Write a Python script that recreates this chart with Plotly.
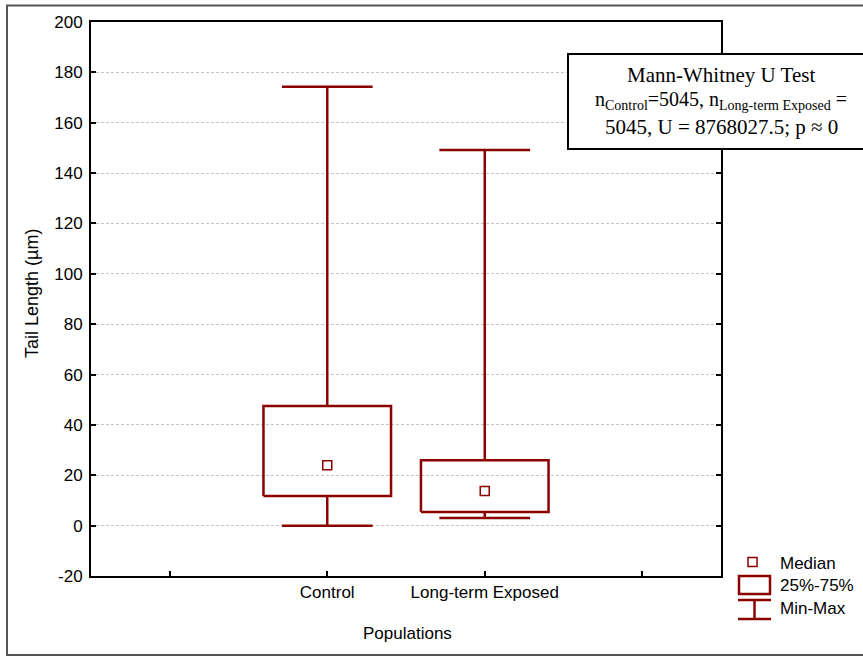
import plotly.graph_objects as go

# Summary statistics of tail length (µm) per population
populations = ["Control", "Long-term Exposed"]
positions = [0, 1]
minimum = [0.0, 3.0]
q25 = [11.8, 5.4]
median = [24.0, 13.8]
q75 = [47.5, 26.0]
maximum = [174.3, 149.2]

y_ticks = list(range(-20, 201, 20))
y_tick_text = [str(v) for v in y_ticks]  # plain hyphen for negatives
x_empty_slots = [-1, 2]

RED = "#8B0000"
BOX_HALF = 0.405
CAP_HALF = 0.288

W, H = 863, 656
L, R, T, B = 91, 721, 22, 576  # plot area in pixels


def px(x):
    return (x - L) / (R - L)


def py(y):
    return (B - y) / (B - T)


fig = go.Figure()

for i, p in enumerate(positions):
    # whiskers (min-max) with caps
    fig.add_trace(go.Scatter(
        x=[p, p, None, p, p, None, p - CAP_HALF, p + CAP_HALF, None, p - CAP_HALF, p + CAP_HALF],
        y=[q75[i], maximum[i], None, q25[i], minimum[i], None, maximum[i], maximum[i], None, minimum[i], minimum[i]],
        mode="lines", line=dict(color=RED, width=2.5), hoverinfo="skip", showlegend=False))
    # interquartile box
    fig.add_trace(go.Scatter(
        x=[p - BOX_HALF, p + BOX_HALF, p + BOX_HALF, p - BOX_HALF, p - BOX_HALF],
        y=[q25[i], q25[i], q75[i], q75[i], q25[i]],
        mode="lines", line=dict(color=RED, width=2.5), hoverinfo="skip", showlegend=False))

# medians
fig.add_trace(go.Scatter(
    x=positions, y=median, mode="markers",
    marker=dict(symbol="square-open", size=9, color=RED, line=dict(width=1.5)),
    showlegend=False, name="Median"))

shapes = []
annotations = []

# outer frame
shapes.append(dict(type="rect", xref="paper", yref="paper",
                   x0=px(7), x1=px(870), y0=py(5.5), y1=py(655),
                   line=dict(color="#555555", width=2), fillcolor="rgba(0,0,0,0)", layer="below"))

# statistics box
shapes.append(dict(type="rect", xref="paper", yref="paper",
                   x0=px(568), x1=px(875), y0=py(54), y1=py(149),
                   line=dict(color="black", width=2), fillcolor="white", layer="above"))
serif = dict(family="Liberation Serif, Times New Roman, serif", size=21, color="black")
for txt, yy, sz in [("Mann-Whitney U Test", 75, 21),
                    ("n<sub>Control</sub>=5045, n<sub>Long-term Exposed</sub> =", 100, 20),
                    ("5045, U = 8768027.5; p ≈ 0", 127, 21)]:
    annotations.append(dict(text=txt, xref="paper", yref="paper", x=px(721), y=py(yy),
                            xanchor="center", yanchor="middle", showarrow=False,
                            font=dict(serif, size=sz)))

# legend symbols
shapes.append(dict(type="rect", xref="paper", yref="paper",
                   x0=px(748), x1=px(757), y0=py(557.5), y1=py(566.5),
                   line=dict(color=RED, width=1.5)))
shapes.append(dict(type="rect", xref="paper", yref="paper",
                   x0=px(739), x1=px(770), y0=py(576), y1=py(594),
                   line=dict(color=RED, width=2.5)))
for yy in (600, 619):
    shapes.append(dict(type="line", xref="paper", yref="paper",
                       x0=px(738), x1=px(771), y0=py(yy), y1=py(yy),
                       line=dict(color=RED, width=2.5)))
shapes.append(dict(type="line", xref="paper", yref="paper",
                   x0=px(754.5), x1=px(754.5), y0=py(600), y1=py(619),
                   line=dict(color=RED, width=2.5)))
sans = dict(family="Liberation Sans, Arial, sans-serif", size=17, color="black")
for txt, yy in [("Median", 563), ("25%-75%", 585), ("Min-Max", 608)]:
    annotations.append(dict(text=txt, xref="paper", yref="paper", x=px(778), y=py(yy),
                            xanchor="left", yanchor="middle", showarrow=False, font=sans))

# axis titles
annotations.append(dict(text="Populations", xref="paper", yref="paper", x=px(407), y=py(633),
                        xanchor="center", yanchor="middle", showarrow=False, font=sans))
annotations.append(dict(text="Tail Length (µm)", xref="paper", yref="paper", x=px(32), y=py(294),
                        xanchor="center", yanchor="middle", showarrow=False, textangle=-90,
                        font=dict(sans, size=18)))

fig.update_layout(
    width=W, height=H,
    margin=dict(l=L, r=W - R, t=T, b=H - B),
    paper_bgcolor="white", plot_bgcolor="white",
    font=sans,
    shapes=shapes, annotations=annotations,
    xaxis=dict(range=[-1.5, 2.5], tickmode="array", tickvals=positions,
               ticktext=populations,
               ticks="inside", ticklen=5, tickwidth=2, tickcolor="black",
               minor=dict(tickmode="array", tickvals=x_empty_slots, ticks="inside",
                          ticklen=5, tickwidth=2, tickcolor="black", showgrid=False),
               showline=True, linecolor="black", linewidth=2, mirror=True,
               showgrid=False, zeroline=False, tickfont=sans),
    yaxis=dict(range=[-20, 200], tickmode="array", tickvals=y_ticks, ticktext=y_tick_text,
               ticks="inside", ticklen=5, tickwidth=2, tickcolor="black",
               showline=True, linecolor="black", linewidth=2, mirror="ticks",
               showgrid=True, gridcolor="#c4c4c4", gridwidth=1, griddash="3px,2px",
               zeroline=False, tickfont=sans, ticklabelstandoff=3),
)

fig.write_html("out.html")
